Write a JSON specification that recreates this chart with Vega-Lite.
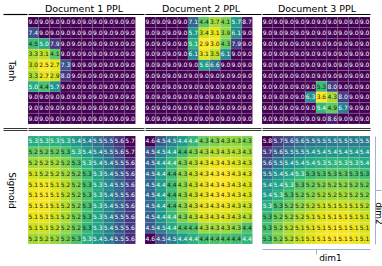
{
"$schema":"https://vega.github.io/schema/vega-lite/v6.json",
"padding":{"left":0,"top":3,"right":0,"bottom":0},
"background":"white",
"config":{"view":{"stroke":null},"font":"DejaVu Sans",
"title":{"font":"DejaVu Sans","fontSize":9.5,"fontWeight":"normal","color":"black","offset":1,"frame":"group"},
"axis":{"grid":false,"ticks":false,"labels":false,"domain":false,"minExtent":0,"titleFont":"DejaVu Sans","titleFontSize":9,"titleFontWeight":"normal","titleColor":"black"}},
"datasets":{
"t1":[
{"r":0,"c":0,"v":9},{"r":0,"c":1,"v":9},{"r":0,"c":2,"v":9},{"r":0,"c":3,"v":9},{"r":0,"c":4,"v":9},{"r":0,"c":5,"v":9},{"r":0,"c":6,"v":9},{"r":0,"c":7,"v":9},{"r":0,"c":8,"v":9},{"r":0,"c":9,"v":9},
{"r":1,"c":0,"v":7.4},{"r":1,"c":1,"v":9},{"r":1,"c":2,"v":9},{"r":1,"c":3,"v":9},{"r":1,"c":4,"v":9},{"r":1,"c":5,"v":9},{"r":1,"c":6,"v":9},{"r":1,"c":7,"v":9},{"r":1,"c":8,"v":9},{"r":1,"c":9,"v":9},
{"r":2,"c":0,"v":4.5},{"r":2,"c":1,"v":5.0},{"r":2,"c":2,"v":7.9},{"r":2,"c":3,"v":9},{"r":2,"c":4,"v":9},{"r":2,"c":5,"v":9},{"r":2,"c":6,"v":9},{"r":2,"c":7,"v":9},{"r":2,"c":8,"v":9},{"r":2,"c":9,"v":9},
{"r":3,"c":0,"v":3.3},{"r":3,"c":1,"v":3.1},{"r":3,"c":2,"v":4.1},{"r":3,"c":3,"v":9},{"r":3,"c":4,"v":9},{"r":3,"c":5,"v":9},{"r":3,"c":6,"v":9},{"r":3,"c":7,"v":9},{"r":3,"c":8,"v":9},{"r":3,"c":9,"v":9},
{"r":4,"c":0,"v":3.0},{"r":4,"c":1,"v":2.5},{"r":4,"c":2,"v":2.7},{"r":4,"c":3,"v":7.3},{"r":4,"c":4,"v":9},{"r":4,"c":5,"v":9},{"r":4,"c":6,"v":9},{"r":4,"c":7,"v":9},{"r":4,"c":8,"v":9},{"r":4,"c":9,"v":9},
{"r":5,"c":0,"v":3.3},{"r":5,"c":1,"v":2.7},{"r":5,"c":2,"v":2.9},{"r":5,"c":3,"v":8.0},{"r":5,"c":4,"v":9},{"r":5,"c":5,"v":9},{"r":5,"c":6,"v":9},{"r":5,"c":7,"v":9},{"r":5,"c":8,"v":9},{"r":5,"c":9,"v":9},
{"r":6,"c":0,"v":5.0},{"r":6,"c":1,"v":4.4},{"r":6,"c":2,"v":5.7},{"r":6,"c":3,"v":9},{"r":6,"c":4,"v":9},{"r":6,"c":5,"v":9},{"r":6,"c":6,"v":9},{"r":6,"c":7,"v":9},{"r":6,"c":8,"v":9},{"r":6,"c":9,"v":9},
{"r":7,"c":0,"v":9},{"r":7,"c":1,"v":9},{"r":7,"c":2,"v":9},{"r":7,"c":3,"v":9},{"r":7,"c":4,"v":9},{"r":7,"c":5,"v":9},{"r":7,"c":6,"v":9},{"r":7,"c":7,"v":9},{"r":7,"c":8,"v":9},{"r":7,"c":9,"v":9},
{"r":8,"c":0,"v":9},{"r":8,"c":1,"v":9},{"r":8,"c":2,"v":9},{"r":8,"c":3,"v":9},{"r":8,"c":4,"v":9},{"r":8,"c":5,"v":9},{"r":8,"c":6,"v":9},{"r":8,"c":7,"v":9},{"r":8,"c":8,"v":9},{"r":8,"c":9,"v":9},
{"r":9,"c":0,"v":9},{"r":9,"c":1,"v":9},{"r":9,"c":2,"v":9},{"r":9,"c":3,"v":9},{"r":9,"c":4,"v":9},{"r":9,"c":5,"v":9},{"r":9,"c":6,"v":9},{"r":9,"c":7,"v":9},{"r":9,"c":8,"v":9},{"r":9,"c":9,"v":9}],
"t2":[
{"r":0,"c":0,"v":9},{"r":0,"c":1,"v":9},{"r":0,"c":2,"v":9},{"r":0,"c":3,"v":9},{"r":0,"c":4,"v":7.1},{"r":0,"c":5,"v":4.4},{"r":0,"c":6,"v":3.7},{"r":0,"c":7,"v":4.1},{"r":0,"c":8,"v":5.7},{"r":0,"c":9,"v":8.7},
{"r":1,"c":0,"v":9},{"r":1,"c":1,"v":9},{"r":1,"c":2,"v":9},{"r":1,"c":3,"v":9},{"r":1,"c":4,"v":5.7},{"r":1,"c":5,"v":3.4},{"r":1,"c":6,"v":3.1},{"r":1,"c":7,"v":3.9},{"r":1,"c":8,"v":6.1},{"r":1,"c":9,"v":9},
{"r":2,"c":0,"v":9},{"r":2,"c":1,"v":9},{"r":2,"c":2,"v":9},{"r":2,"c":3,"v":9},{"r":2,"c":4,"v":5.1},{"r":2,"c":5,"v":2.9},{"r":2,"c":6,"v":3.0},{"r":2,"c":7,"v":4.3},{"r":2,"c":8,"v":7.9},{"r":2,"c":9,"v":9},
{"r":3,"c":0,"v":9},{"r":3,"c":1,"v":9},{"r":3,"c":2,"v":9},{"r":3,"c":3,"v":9},{"r":3,"c":4,"v":6.1},{"r":3,"c":5,"v":3.1},{"r":3,"c":6,"v":3.5},{"r":3,"c":7,"v":6.1},{"r":3,"c":8,"v":9},{"r":3,"c":9,"v":9},
{"r":4,"c":0,"v":9},{"r":4,"c":1,"v":9},{"r":4,"c":2,"v":9},{"r":4,"c":3,"v":9},{"r":4,"c":4,"v":9},{"r":4,"c":5,"v":5.6},{"r":4,"c":6,"v":6.6},{"r":4,"c":7,"v":9},{"r":4,"c":8,"v":9},{"r":4,"c":9,"v":9},
{"r":5,"c":0,"v":9},{"r":5,"c":1,"v":9},{"r":5,"c":2,"v":9},{"r":5,"c":3,"v":9},{"r":5,"c":4,"v":9},{"r":5,"c":5,"v":9},{"r":5,"c":6,"v":9},{"r":5,"c":7,"v":9},{"r":5,"c":8,"v":9},{"r":5,"c":9,"v":9},
{"r":6,"c":0,"v":9},{"r":6,"c":1,"v":9},{"r":6,"c":2,"v":9},{"r":6,"c":3,"v":9},{"r":6,"c":4,"v":9},{"r":6,"c":5,"v":9},{"r":6,"c":6,"v":9},{"r":6,"c":7,"v":9},{"r":6,"c":8,"v":9},{"r":6,"c":9,"v":9},
{"r":7,"c":0,"v":9},{"r":7,"c":1,"v":9},{"r":7,"c":2,"v":9},{"r":7,"c":3,"v":9},{"r":7,"c":4,"v":9},{"r":7,"c":5,"v":9},{"r":7,"c":6,"v":9},{"r":7,"c":7,"v":9},{"r":7,"c":8,"v":9},{"r":7,"c":9,"v":9},
{"r":8,"c":0,"v":9},{"r":8,"c":1,"v":9},{"r":8,"c":2,"v":9},{"r":8,"c":3,"v":9},{"r":8,"c":4,"v":9},{"r":8,"c":5,"v":9},{"r":8,"c":6,"v":9},{"r":8,"c":7,"v":9},{"r":8,"c":8,"v":9},{"r":8,"c":9,"v":9},
{"r":9,"c":0,"v":9},{"r":9,"c":1,"v":9},{"r":9,"c":2,"v":9},{"r":9,"c":3,"v":9},{"r":9,"c":4,"v":9},{"r":9,"c":5,"v":9},{"r":9,"c":6,"v":9},{"r":9,"c":7,"v":9},{"r":9,"c":8,"v":9},{"r":9,"c":9,"v":9}],
"t3":[
{"r":0,"c":0,"v":9},{"r":0,"c":1,"v":9},{"r":0,"c":2,"v":9},{"r":0,"c":3,"v":9},{"r":0,"c":4,"v":9},{"r":0,"c":5,"v":9},{"r":0,"c":6,"v":9},{"r":0,"c":7,"v":9},{"r":0,"c":8,"v":9},{"r":0,"c":9,"v":9},
{"r":1,"c":0,"v":9},{"r":1,"c":1,"v":9},{"r":1,"c":2,"v":9},{"r":1,"c":3,"v":9},{"r":1,"c":4,"v":9},{"r":1,"c":5,"v":9},{"r":1,"c":6,"v":9},{"r":1,"c":7,"v":9},{"r":1,"c":8,"v":9},{"r":1,"c":9,"v":9},
{"r":2,"c":0,"v":9},{"r":2,"c":1,"v":9},{"r":2,"c":2,"v":9},{"r":2,"c":3,"v":9},{"r":2,"c":4,"v":9},{"r":2,"c":5,"v":9},{"r":2,"c":6,"v":9},{"r":2,"c":7,"v":9},{"r":2,"c":8,"v":9},{"r":2,"c":9,"v":9},
{"r":3,"c":0,"v":9},{"r":3,"c":1,"v":9},{"r":3,"c":2,"v":9},{"r":3,"c":3,"v":9},{"r":3,"c":4,"v":9},{"r":3,"c":5,"v":9},{"r":3,"c":6,"v":9},{"r":3,"c":7,"v":9},{"r":3,"c":8,"v":9},{"r":3,"c":9,"v":9},
{"r":4,"c":0,"v":9},{"r":4,"c":1,"v":9},{"r":4,"c":2,"v":9},{"r":4,"c":3,"v":9},{"r":4,"c":4,"v":9},{"r":4,"c":5,"v":9},{"r":4,"c":6,"v":9},{"r":4,"c":7,"v":9},{"r":4,"c":8,"v":9},{"r":4,"c":9,"v":9},
{"r":5,"c":0,"v":9},{"r":5,"c":1,"v":9},{"r":5,"c":2,"v":9},{"r":5,"c":3,"v":9},{"r":5,"c":4,"v":9},{"r":5,"c":5,"v":9},{"r":5,"c":6,"v":9},{"r":5,"c":7,"v":9},{"r":5,"c":8,"v":9},{"r":5,"c":9,"v":9},
{"r":6,"c":0,"v":9},{"r":6,"c":1,"v":9},{"r":6,"c":2,"v":9},{"r":6,"c":3,"v":9},{"r":6,"c":4,"v":9},{"r":6,"c":5,"v":5.3},{"r":6,"c":6,"v":8.0},{"r":6,"c":7,"v":9},{"r":6,"c":8,"v":9},{"r":6,"c":9,"v":9},
{"r":7,"c":0,"v":9},{"r":7,"c":1,"v":9},{"r":7,"c":2,"v":9},{"r":7,"c":3,"v":9},{"r":7,"c":4,"v":6.3},{"r":7,"c":5,"v":3.6},{"r":7,"c":6,"v":4.3},{"r":7,"c":7,"v":8.0},{"r":7,"c":8,"v":9},{"r":7,"c":9,"v":9},
{"r":8,"c":0,"v":9},{"r":8,"c":1,"v":9},{"r":8,"c":2,"v":9},{"r":8,"c":3,"v":9},{"r":8,"c":4,"v":9},{"r":8,"c":5,"v":5.4},{"r":8,"c":6,"v":4.9},{"r":8,"c":7,"v":6.7},{"r":8,"c":8,"v":9},{"r":8,"c":9,"v":9},
{"r":9,"c":0,"v":9},{"r":9,"c":1,"v":9},{"r":9,"c":2,"v":9},{"r":9,"c":3,"v":9},{"r":9,"c":4,"v":9},{"r":9,"c":5,"v":9},{"r":9,"c":6,"v":8.6},{"r":9,"c":7,"v":9},{"r":9,"c":8,"v":9},{"r":9,"c":9,"v":9}],
"s1":[
{"r":0,"c":0,"v":5.32},{"r":0,"c":1,"v":5.31},{"r":0,"c":2,"v":5.31},{"r":0,"c":3,"v":5.33},{"r":0,"c":4,"v":5.37},{"r":0,"c":5,"v":5.42},{"r":0,"c":6,"v":5.47},{"r":0,"c":7,"v":5.53},{"r":0,"c":8,"v":5.6},{"r":0,"c":9,"v":5.68},
{"r":1,"c":0,"v":5.24},{"r":1,"c":1,"v":5.23},{"r":1,"c":2,"v":5.24},{"r":1,"c":3,"v":5.26},{"r":1,"c":4,"v":5.31},{"r":1,"c":5,"v":5.36},{"r":1,"c":6,"v":5.42},{"r":1,"c":7,"v":5.48},{"r":1,"c":8,"v":5.56},{"r":1,"c":9,"v":5.66},
{"r":2,"c":0,"v":5.18},{"r":2,"c":1,"v":5.17},{"r":2,"c":2,"v":5.18},{"r":2,"c":3,"v":5.21},{"r":2,"c":4,"v":5.26},{"r":2,"c":5,"v":5.31},{"r":2,"c":6,"v":5.37},{"r":2,"c":7,"v":5.44},{"r":2,"c":8,"v":5.52},{"r":2,"c":9,"v":5.61},
{"r":3,"c":0,"v":5.14},{"r":3,"c":1,"v":5.16},{"r":3,"c":2,"v":5.16},{"r":3,"c":3,"v":5.18},{"r":3,"c":4,"v":5.23},{"r":3,"c":5,"v":5.28},{"r":3,"c":6,"v":5.34},{"r":3,"c":7,"v":5.42},{"r":3,"c":8,"v":5.51},{"r":3,"c":9,"v":5.59},
{"r":4,"c":0,"v":5.12},{"r":4,"c":1,"v":5.11},{"r":4,"c":2,"v":5.13},{"r":4,"c":3,"v":5.16},{"r":4,"c":4,"v":5.21},{"r":4,"c":5,"v":5.27},{"r":4,"c":6,"v":5.33},{"r":4,"c":7,"v":5.41},{"r":4,"c":8,"v":5.49},{"r":4,"c":9,"v":5.58},
{"r":5,"c":0,"v":5.11},{"r":5,"c":1,"v":5.1},{"r":5,"c":2,"v":5.12},{"r":5,"c":3,"v":5.16},{"r":5,"c":4,"v":5.21},{"r":5,"c":5,"v":5.26},{"r":5,"c":6,"v":5.33},{"r":5,"c":7,"v":5.41},{"r":5,"c":8,"v":5.49},{"r":5,"c":9,"v":5.58},
{"r":6,"c":0,"v":5.11},{"r":6,"c":1,"v":5.11},{"r":6,"c":2,"v":5.13},{"r":6,"c":3,"v":5.16},{"r":6,"c":4,"v":5.21},{"r":6,"c":5,"v":5.27},{"r":6,"c":6,"v":5.33},{"r":6,"c":7,"v":5.41},{"r":6,"c":8,"v":5.49},{"r":6,"c":9,"v":5.58},
{"r":7,"c":0,"v":5.12},{"r":7,"c":1,"v":5.12},{"r":7,"c":2,"v":5.14},{"r":7,"c":3,"v":5.17},{"r":7,"c":4,"v":5.22},{"r":7,"c":5,"v":5.28},{"r":7,"c":6,"v":5.34},{"r":7,"c":7,"v":5.42},{"r":7,"c":8,"v":5.51},{"r":7,"c":9,"v":5.59},
{"r":8,"c":0,"v":5.14},{"r":8,"c":1,"v":5.14},{"r":8,"c":2,"v":5.16},{"r":8,"c":3,"v":5.19},{"r":8,"c":4,"v":5.23},{"r":8,"c":5,"v":5.29},{"r":8,"c":6,"v":5.34},{"r":8,"c":7,"v":5.42},{"r":8,"c":8,"v":5.51},{"r":8,"c":9,"v":5.59},
{"r":9,"c":0,"v":5.18},{"r":9,"c":1,"v":5.17},{"r":9,"c":2,"v":5.19},{"r":9,"c":3,"v":5.22},{"r":9,"c":4,"v":5.26},{"r":9,"c":5,"v":5.31},{"r":9,"c":6,"v":5.37},{"r":9,"c":7,"v":5.44},{"r":9,"c":8,"v":5.52},{"r":9,"c":9,"v":5.61}],
"s2":[
{"r":0,"c":0,"v":4.62},{"r":0,"c":1,"v":4.52},{"r":0,"c":2,"v":4.47},{"r":0,"c":3,"v":4.42},{"r":0,"c":4,"v":4.38},{"r":0,"c":5,"v":4.34},{"r":0,"c":6,"v":4.33},{"r":0,"c":7,"v":4.32},{"r":0,"c":8,"v":4.32},{"r":0,"c":9,"v":4.33},
{"r":1,"c":0,"v":4.53},{"r":1,"c":1,"v":4.46},{"r":1,"c":2,"v":4.41},{"r":1,"c":3,"v":4.37},{"r":1,"c":4,"v":4.33},{"r":1,"c":5,"v":4.31},{"r":1,"c":6,"v":4.3},{"r":1,"c":7,"v":4.3},{"r":1,"c":8,"v":4.3},{"r":1,"c":9,"v":4.31},
{"r":2,"c":0,"v":4.51},{"r":2,"c":1,"v":4.43},{"r":2,"c":2,"v":4.38},{"r":2,"c":3,"v":4.33},{"r":2,"c":4,"v":4.3},{"r":2,"c":5,"v":4.28},{"r":2,"c":6,"v":4.27},{"r":2,"c":7,"v":4.27},{"r":2,"c":8,"v":4.28},{"r":2,"c":9,"v":4.29},
{"r":3,"c":0,"v":4.5},{"r":3,"c":1,"v":4.42},{"r":3,"c":2,"v":4.37},{"r":3,"c":3,"v":4.32},{"r":3,"c":4,"v":4.29},{"r":3,"c":5,"v":4.27},{"r":3,"c":6,"v":4.26},{"r":3,"c":7,"v":4.26},{"r":3,"c":8,"v":4.27},{"r":3,"c":9,"v":4.28},
{"r":4,"c":0,"v":4.5},{"r":4,"c":1,"v":4.42},{"r":4,"c":2,"v":4.37},{"r":4,"c":3,"v":4.32},{"r":4,"c":4,"v":4.29},{"r":4,"c":5,"v":4.27},{"r":4,"c":6,"v":4.26},{"r":4,"c":7,"v":4.26},{"r":4,"c":8,"v":4.27},{"r":4,"c":9,"v":4.28},
{"r":5,"c":0,"v":4.5},{"r":5,"c":1,"v":4.42},{"r":5,"c":2,"v":4.37},{"r":5,"c":3,"v":4.32},{"r":5,"c":4,"v":4.29},{"r":5,"c":5,"v":4.27},{"r":5,"c":6,"v":4.26},{"r":5,"c":7,"v":4.26},{"r":5,"c":8,"v":4.27},{"r":5,"c":9,"v":4.28},
{"r":6,"c":0,"v":4.5},{"r":6,"c":1,"v":4.42},{"r":6,"c":2,"v":4.37},{"r":6,"c":3,"v":4.32},{"r":6,"c":4,"v":4.29},{"r":6,"c":5,"v":4.27},{"r":6,"c":6,"v":4.27},{"r":6,"c":7,"v":4.27},{"r":6,"c":8,"v":4.28},{"r":6,"c":9,"v":4.29},
{"r":7,"c":0,"v":4.51},{"r":7,"c":1,"v":4.43},{"r":7,"c":2,"v":4.38},{"r":7,"c":3,"v":4.33},{"r":7,"c":4,"v":4.3},{"r":7,"c":5,"v":4.28},{"r":7,"c":6,"v":4.28},{"r":7,"c":7,"v":4.28},{"r":7,"c":8,"v":4.29},{"r":7,"c":9,"v":4.3},
{"r":8,"c":0,"v":4.52},{"r":8,"c":1,"v":4.46},{"r":8,"c":2,"v":4.4},{"r":8,"c":3,"v":4.36},{"r":8,"c":4,"v":4.36},{"r":8,"c":5,"v":4.31},{"r":8,"c":6,"v":4.31},{"r":8,"c":7,"v":4.31},{"r":8,"c":8,"v":4.32},{"r":8,"c":9,"v":4.36},
{"r":9,"c":0,"v":4.62},{"r":9,"c":1,"v":4.53},{"r":9,"c":2,"v":4.47},{"r":9,"c":3,"v":4.42},{"r":9,"c":4,"v":4.39},{"r":9,"c":5,"v":4.37},{"r":9,"c":6,"v":4.36},{"r":9,"c":7,"v":4.36},{"r":9,"c":8,"v":4.37},{"r":9,"c":9,"v":4.38}],
"s3":[
{"r":0,"c":0,"v":5.8},{"r":0,"c":1,"v":5.68},{"r":0,"c":2,"v":5.62},{"r":0,"c":3,"v":5.56},{"r":0,"c":4,"v":5.53},{"r":0,"c":5,"v":5.51},{"r":0,"c":6,"v":5.5},{"r":0,"c":7,"v":5.5},{"r":0,"c":8,"v":5.5},{"r":0,"c":9,"v":5.5},
{"r":1,"c":0,"v":5.68},{"r":1,"c":1,"v":5.6},{"r":1,"c":2,"v":5.53},{"r":1,"c":3,"v":5.48},{"r":1,"c":4,"v":5.44},{"r":1,"c":5,"v":5.42},{"r":1,"c":6,"v":5.41},{"r":1,"c":7,"v":5.41},{"r":1,"c":8,"v":5.41},{"r":1,"c":9,"v":5.42},
{"r":2,"c":0,"v":5.62},{"r":2,"c":1,"v":5.51},{"r":2,"c":2,"v":5.44},{"r":2,"c":3,"v":5.4},{"r":2,"c":4,"v":5.36},{"r":2,"c":5,"v":5.34},{"r":2,"c":6,"v":5.33},{"r":2,"c":7,"v":5.33},{"r":2,"c":8,"v":5.34},{"r":2,"c":9,"v":5.36},
{"r":3,"c":0,"v":5.54},{"r":3,"c":1,"v":5.44},{"r":3,"c":2,"v":5.38},{"r":3,"c":3,"v":5.33},{"r":3,"c":4,"v":5.3},{"r":3,"c":5,"v":5.28},{"r":3,"c":6,"v":5.27},{"r":3,"c":7,"v":5.27},{"r":3,"c":8,"v":5.28},{"r":3,"c":9,"v":5.3},
{"r":4,"c":0,"v":5.44},{"r":4,"c":1,"v":5.38},{"r":4,"c":2,"v":5.33},{"r":4,"c":3,"v":5.27},{"r":4,"c":4,"v":5.24},{"r":4,"c":5,"v":5.22},{"r":4,"c":6,"v":5.21},{"r":4,"c":7,"v":5.21},{"r":4,"c":8,"v":5.22},{"r":4,"c":9,"v":5.24},
{"r":5,"c":0,"v":5.4},{"r":5,"c":1,"v":5.34},{"r":5,"c":2,"v":5.28},{"r":5,"c":3,"v":5.24},{"r":5,"c":4,"v":5.21},{"r":5,"c":5,"v":5.19},{"r":5,"c":6,"v":5.18},{"r":5,"c":7,"v":5.18},{"r":5,"c":8,"v":5.19},{"r":5,"c":9,"v":5.21},
{"r":6,"c":0,"v":5.34},{"r":6,"c":1,"v":5.29},{"r":6,"c":2,"v":5.24},{"r":6,"c":3,"v":5.2},{"r":6,"c":4,"v":5.17},{"r":6,"c":5,"v":5.14},{"r":6,"c":6,"v":5.13},{"r":6,"c":7,"v":5.13},{"r":6,"c":8,"v":5.14},{"r":6,"c":9,"v":5.16},
{"r":7,"c":0,"v":5.3},{"r":7,"c":1,"v":5.24},{"r":7,"c":2,"v":5.2},{"r":7,"c":3,"v":5.16},{"r":7,"c":4,"v":5.13},{"r":7,"c":5,"v":5.11},{"r":7,"c":6,"v":5.1},{"r":7,"c":7,"v":5.1},{"r":7,"c":8,"v":5.11},{"r":7,"c":9,"v":5.13},
{"r":8,"c":0,"v":5.29},{"r":8,"c":1,"v":5.22},{"r":8,"c":2,"v":5.17},{"r":8,"c":3,"v":5.14},{"r":8,"c":4,"v":5.12},{"r":8,"c":5,"v":5.1},{"r":8,"c":6,"v":5.09},{"r":8,"c":7,"v":5.09},{"r":8,"c":8,"v":5.1},{"r":8,"c":9,"v":5.12},
{"r":9,"c":0,"v":5.29},{"r":9,"c":1,"v":5.22},{"r":9,"c":2,"v":5.17},{"r":9,"c":3,"v":5.14},{"r":9,"c":4,"v":5.11},{"r":9,"c":5,"v":5.09},{"r":9,"c":6,"v":5.08},{"r":9,"c":7,"v":5.08},{"r":9,"c":8,"v":5.09},{"r":9,"c":9,"v":5.11}]
},
"vconcat":[
{"hconcat":[
 {"width":24,"height":107,"data":{"name":"t1"},
  "encoding":{"y":{"datum":0,"type":"quantitative","scale":{"domain":[0,1]},"axis":{"orient":"left","offset":-24,"title":"Tanh","titleAngle":90,"titleBaseline":"top","titlePadding":12}}},
  "layer":[
   {"mark":{"type":"point","opacity":0},"encoding":{"x":{"datum":0,"type":"quantitative","scale":{"domain":[0,1]},"axis":{"orient":"top","domain":true,"domainColor":"black","domainWidth":1.2,"offset":3,"title":null}}}},
   {"mark":{"type":"point","opacity":0},"encoding":{"x":{"datum":0,"type":"quantitative","scale":{"domain":[0,1]},"axis":{"orient":"bottom","domain":true,"domainColor":"black","domainWidth":0.8,"offset":4,"title":null}}}}],
  "resolve":{"axis":{"x":"independent"}}},
 {"width":116,"height":107,"data":{"name":"t1"},"title":{"text":"Document 1 PPL","dx":-2},
  "transform":[{"joinaggregate":[{"op":"min","field":"v","as":"lo"},{"op":"max","field":"v","as":"hi"}]},{"calculate":"(datum.v - datum.lo) / (datum.hi - datum.lo)","as":"u"}],
  "encoding":{"y":{"field":"r","type":"ordinal","scale":{"paddingInner":0,"paddingOuter":0},"axis":null}},
  "layer":[
   {"mark":{"type":"rect","stroke":"white","strokeWidth":0.4,"strokeOpacity":0.25},
    "encoding":{"x":{"field":"c","type":"ordinal","scale":{"paddingInner":0,"paddingOuter":0.3953,"align":0},"axis":{"orient":"top","domain":true,"domainColor":"black","domainWidth":1.2,"offset":3,"title":null}},
     "color":{"field":"v","type":"quantitative","scale":{"scheme":"viridis","reverse":true,"zero":false,"nice":false},"legend":null}}},
   {"mark":{"type":"text","fontSize":6,"font":"DejaVu Sans"},
    "encoding":{"x":{"field":"c","type":"ordinal","scale":{"paddingInner":0,"paddingOuter":0.3953,"align":0},"axis":{"orient":"bottom","domain":true,"domainColor":"black","domainWidth":0.8,"offset":4,"title":null}},
     "text":{"field":"v","type":"quantitative","format":".1f"},
     "color":{"condition":{"test":"datum.u > 0.33","value":"white"},"value":"#1a1a1a"}}}],
  "resolve":{"axis":{"x":"independent"}}},
 {"width":116,"height":107,"data":{"name":"t2"},"title":{"text":"Document 2 PPL","dx":-2},
  "transform":[{"joinaggregate":[{"op":"min","field":"v","as":"lo"},{"op":"max","field":"v","as":"hi"}]},{"calculate":"(datum.v - datum.lo) / (datum.hi - datum.lo)","as":"u"}],
  "encoding":{"y":{"field":"r","type":"ordinal","scale":{"paddingInner":0,"paddingOuter":0},"axis":null}},
  "layer":[
   {"mark":{"type":"rect","stroke":"white","strokeWidth":0.4,"strokeOpacity":0.25},
    "encoding":{"x":{"field":"c","type":"ordinal","scale":{"paddingInner":0,"paddingOuter":0.3953,"align":0},"axis":{"orient":"top","domain":true,"domainColor":"black","domainWidth":1.2,"offset":3,"title":null}},
     "color":{"field":"v","type":"quantitative","scale":{"scheme":"viridis","reverse":true,"zero":false,"nice":false},"legend":null}}},
   {"mark":{"type":"text","fontSize":6,"font":"DejaVu Sans"},
    "encoding":{"x":{"field":"c","type":"ordinal","scale":{"paddingInner":0,"paddingOuter":0.3953,"align":0},"axis":{"orient":"bottom","domain":true,"domainColor":"black","domainWidth":0.8,"offset":4,"title":null}},
     "text":{"field":"v","type":"quantitative","format":".1f"},
     "color":{"condition":{"test":"datum.u > 0.33","value":"white"},"value":"#1a1a1a"}}}],
  "resolve":{"axis":{"x":"independent"}}},
 {"width":108,"height":107,"data":{"name":"t3"},"title":{"text":"Document 3 PPL","dx":1},
  "transform":[{"joinaggregate":[{"op":"min","field":"v","as":"lo"},{"op":"max","field":"v","as":"hi"}]},{"calculate":"(datum.v - datum.lo) / (datum.hi - datum.lo)","as":"u"}],
  "encoding":{"y":{"field":"r","type":"ordinal","scale":{"paddingInner":0,"paddingOuter":0},"axis":null}},
  "layer":[
   {"mark":{"type":"rect","stroke":"white","strokeWidth":0.4,"strokeOpacity":0.25},
    "encoding":{"x":{"field":"c","type":"ordinal","scale":{"paddingInner":0,"paddingOuter":0},"axis":{"orient":"top","domain":true,"domainColor":"black","domainWidth":1.2,"offset":3,"title":null}},
     "color":{"field":"v","type":"quantitative","scale":{"scheme":"viridis","reverse":true,"zero":false,"nice":false},"legend":null}}},
   {"mark":{"type":"text","fontSize":6,"font":"DejaVu Sans"},
    "encoding":{"x":{"field":"c","type":"ordinal","scale":{"paddingInner":0,"paddingOuter":0},"axis":{"orient":"bottom","domain":true,"domainColor":"black","domainWidth":0.8,"offset":4,"title":null}},
     "text":{"field":"v","type":"quantitative","format":".1f"},
     "color":{"condition":{"test":"datum.u > 0.33","value":"white"},"value":"#1a1a1a"}}}],
  "resolve":{"axis":{"x":"independent"}}}
 ],"spacing":0,"resolve":{"scale":{"color":"independent","x":"independent","y":"independent"}}},
{"hconcat":[
 {"width":24,"height":108,"data":{"name":"s1"},
  "encoding":{"y":{"datum":0,"type":"quantitative","scale":{"domain":[0,1]},"axis":{"orient":"left","offset":-24,"title":"Sigmoid","titleAngle":90,"titleBaseline":"top","titlePadding":12}}},
  "layer":[
   {"mark":{"type":"point","opacity":0},"encoding":{"x":{"datum":0,"type":"quantitative","scale":{"domain":[0,1]},"axis":{"orient":"top","domain":true,"domainColor":"black","domainWidth":0.8,"offset":6,"title":null}}}}]},
 {"width":116,"height":108,"data":{"name":"s1"},
  "transform":[{"joinaggregate":[{"op":"min","field":"v","as":"lo"},{"op":"max","field":"v","as":"hi"}]},{"calculate":"(datum.v - datum.lo) / (datum.hi - datum.lo)","as":"u"}],
  "encoding":{"y":{"field":"r","type":"ordinal","scale":{"paddingInner":0,"paddingOuter":0},"axis":null}},
  "layer":[
   {"mark":{"type":"rect","stroke":"white","strokeWidth":0.4,"strokeOpacity":0.25},
    "encoding":{"x":{"field":"c","type":"ordinal","scale":{"paddingInner":0,"paddingOuter":0.3953,"align":0},"axis":{"orient":"top","domain":true,"domainColor":"black","domainWidth":0.8,"offset":6,"title":null}},
     "color":{"field":"v","type":"quantitative","scale":{"scheme":"viridis","reverse":true,"zero":false,"nice":false},"legend":null}}},
   {"mark":{"type":"text","fontSize":6,"font":"DejaVu Sans"},
    "encoding":{"x":{"field":"c","type":"ordinal","scale":{"paddingInner":0,"paddingOuter":0.3953,"align":0},"axis":null},
     "text":{"field":"v","type":"quantitative","format":".1f"},
     "color":{"condition":{"test":"datum.u > 0.33","value":"white"},"value":"#1a1a1a"}}}],
  "resolve":{"axis":{"x":"independent"}}},
 {"width":116,"height":108,"data":{"name":"s2"},
  "transform":[{"joinaggregate":[{"op":"min","field":"v","as":"lo"},{"op":"max","field":"v","as":"hi"}]},{"calculate":"(datum.v - datum.lo) / (datum.hi - datum.lo)","as":"u"}],
  "encoding":{"y":{"field":"r","type":"ordinal","scale":{"paddingInner":0,"paddingOuter":0},"axis":null}},
  "layer":[
   {"mark":{"type":"rect","stroke":"white","strokeWidth":0.4,"strokeOpacity":0.25},
    "encoding":{"x":{"field":"c","type":"ordinal","scale":{"paddingInner":0,"paddingOuter":0.3953,"align":0},"axis":{"orient":"top","domain":true,"domainColor":"black","domainWidth":0.8,"offset":6,"title":null}},
     "color":{"field":"v","type":"quantitative","scale":{"scheme":"viridis","reverse":true,"zero":false,"nice":false},"legend":null}}},
   {"mark":{"type":"text","fontSize":6,"font":"DejaVu Sans"},
    "encoding":{"x":{"field":"c","type":"ordinal","scale":{"paddingInner":0,"paddingOuter":0.3953,"align":0},"axis":null},
     "text":{"field":"v","type":"quantitative","format":".1f"},
     "color":{"condition":{"test":"datum.u > 0.33","value":"white"},"value":"#1a1a1a"}}}],
  "resolve":{"axis":{"x":"independent"}}},
 {"width":108,"height":108,"data":{"name":"s3"},
  "transform":[{"joinaggregate":[{"op":"min","field":"v","as":"lo"},{"op":"max","field":"v","as":"hi"}]},{"calculate":"(datum.v - datum.lo) / (datum.hi - datum.lo)","as":"u"}],
  "encoding":{"y":{"field":"r","type":"ordinal","scale":{"paddingInner":0,"paddingOuter":0},"axis":{"orient":"right","domain":true,"domainColor":"#9fb2cf","domainWidth":1,"offset":5,"ticks":true,"tickColor":"#9fb2cf","tickSize":6,"tickWidth":1,"values":[4],"bandPosition":1,"title":"dim2","titleAngle":90,"titleBaseline":"bottom","titleX":-2,"titleY":77}}},
  "layer":[
   {"mark":{"type":"rect","stroke":"white","strokeWidth":0.4,"strokeOpacity":0.25},
    "encoding":{"x":{"field":"c","type":"ordinal","scale":{"paddingInner":0,"paddingOuter":0},"axis":{"orient":"top","domain":true,"domainColor":"black","domainWidth":0.8,"offset":6,"title":null}},
     "color":{"field":"v","type":"quantitative","scale":{"scheme":"viridis","reverse":true,"zero":false,"nice":false},"legend":null}}},
   {"mark":{"type":"text","fontSize":6,"font":"DejaVu Sans"},
    "encoding":{"x":{"field":"c","type":"ordinal","scale":{"paddingInner":0,"paddingOuter":0},"axis":{"orient":"bottom","domain":true,"domainColor":"#9fb2cf","domainWidth":1,"offset":5,"ticks":true,"tickColor":"#9fb2cf","tickSize":5,"tickWidth":1,"values":[4],"bandPosition":1,"title":"dim1","titleX":68,"titleY":4,"titleBaseline":"top"}},
     "text":{"field":"v","type":"quantitative","format":".1f"},
     "color":{"condition":{"test":"datum.u > 0.33","value":"white"},"value":"#1a1a1a"}}}],
  "resolve":{"axis":{"x":"independent"}}}
 ],"spacing":0,"resolve":{"scale":{"color":"independent","x":"independent","y":"independent"}}}
],
"spacing":2,
"resolve":{"scale":{"color":"independent"}}
}
